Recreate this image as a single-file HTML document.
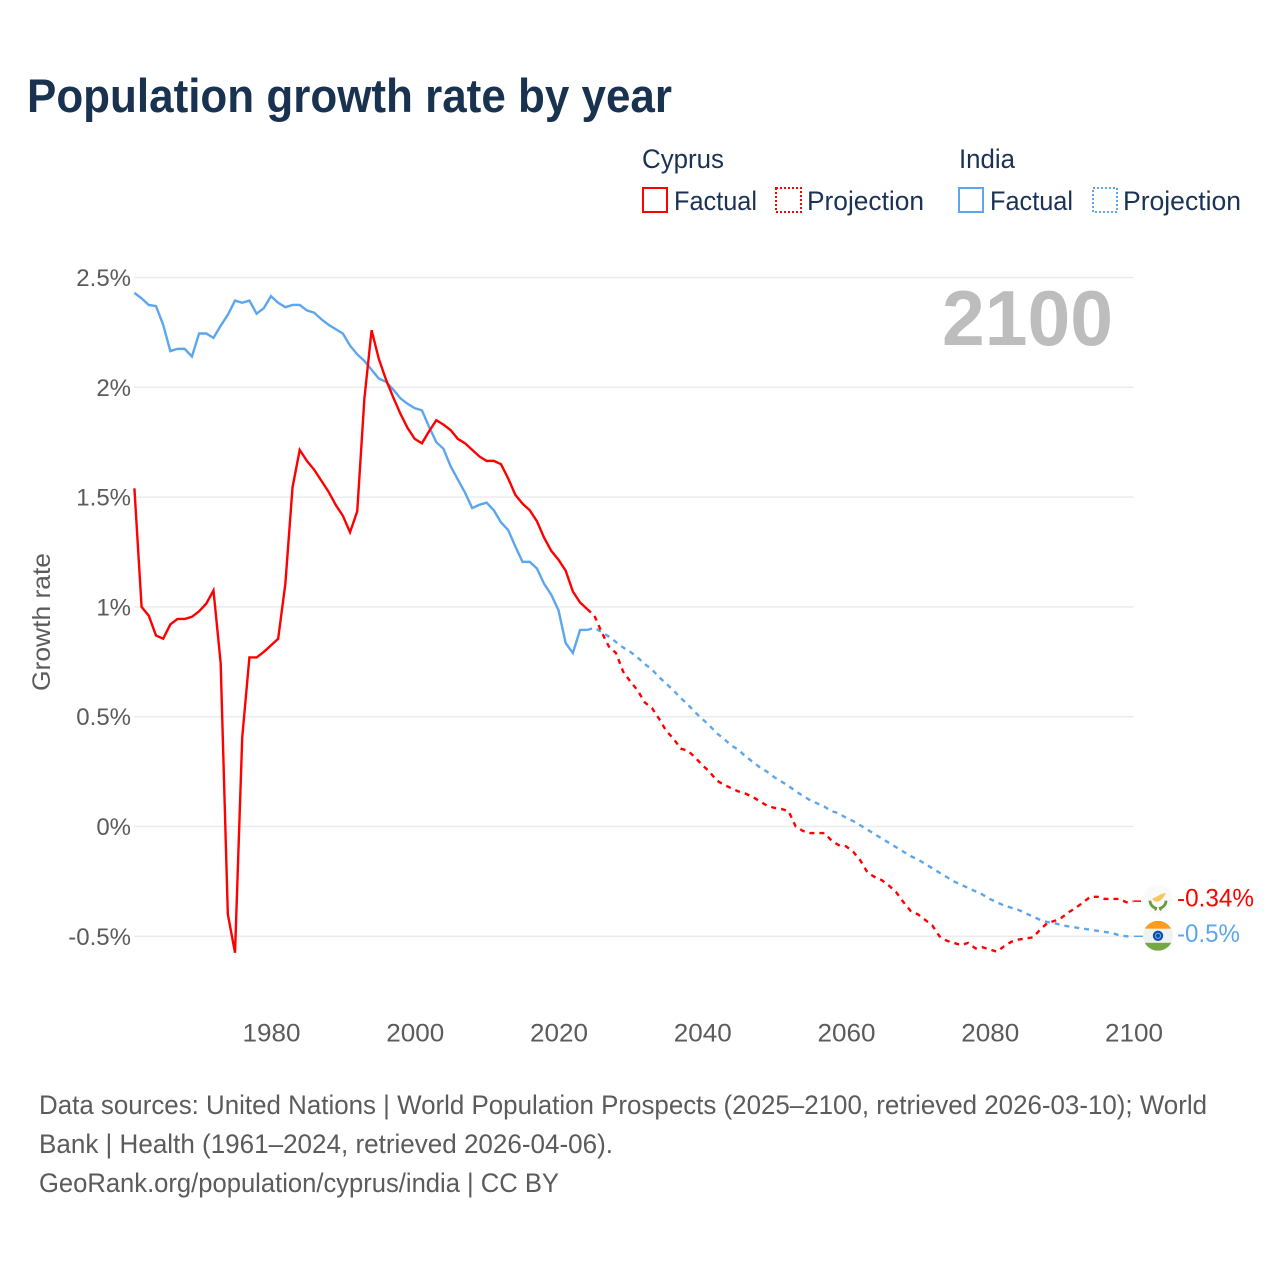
<!DOCTYPE html>
<html lang="en">
<head>
<meta charset="utf-8">
<title>Population growth rate by year</title>
<style>
html,body{margin:0;padding:0;background:#fff;width:1280px;height:1280px;overflow:hidden}
svg{display:block}
text{font-family:"Liberation Sans",sans-serif}
.ytick{font-size:24px;fill:#5b5b5b}
.xtick{font-size:25px;fill:#5b5b5b}
.legend{font-size:27px;fill:#1a3254}
.foot{font-size:27px;fill:#5b5b5b}
</style>
</head>
<body>
<svg id="chart" width="1280" height="1280" viewBox="0 0 1280 1280" xmlns="http://www.w3.org/2000/svg">
  <text x="27" y="112" font-size="47" font-weight="700" fill="#18324f" textLength="645" lengthAdjust="spacingAndGlyphs">Population growth rate by year</text>

  <g>
    <text class="legend" x="642" y="168" textLength="82" lengthAdjust="spacingAndGlyphs">Cyprus</text>
    <text class="legend" x="959" y="168" textLength="56" lengthAdjust="spacingAndGlyphs">India</text>
    <rect x="643" y="188" width="24" height="24" fill="none" stroke="#ff0000" stroke-width="2"/>
    <text class="legend" x="674" y="210" textLength="83" lengthAdjust="spacingAndGlyphs">Factual</text>
    <rect x="776" y="188" width="25" height="24" fill="none" stroke="#ff0000" stroke-width="2" stroke-dasharray="2 2"/>
    <text class="legend" x="807" y="210" textLength="117" lengthAdjust="spacingAndGlyphs">Projection</text>
    <rect x="959" y="188" width="24" height="24" fill="none" stroke="#5ca6ee" stroke-width="2"/>
    <text class="legend" x="990" y="210" textLength="83" lengthAdjust="spacingAndGlyphs">Factual</text>
    <rect x="1093" y="188" width="24" height="24" fill="none" stroke="#5ca6ee" stroke-width="2" stroke-dasharray="2 2"/>
    <text class="legend" x="1123" y="210" textLength="118" lengthAdjust="spacingAndGlyphs">Projection</text>
  </g>

  <g id="grid"></g>
  <g id="yLabels"></g>
  <g id="xLabels"></g>
  <text transform="translate(50,622) rotate(-90)" text-anchor="middle" font-size="25" fill="#5b5b5b" textLength="138" lengthAdjust="spacingAndGlyphs">Growth rate</text>
  <text x="942" y="345" font-size="78" font-weight="700" fill="#bdbdbd" textLength="171" lengthAdjust="spacingAndGlyphs">2100</text>
  <g id="series"></g>

  <g id="flagCyprus">
    <circle cx="0" cy="0" r="15" fill="#fafafa"/>
    <path d="M-6 -1 C-3 -2 -1 -3 2 -5 C4 -6 6 -6 8 -7 C7 -4 5 -1 2 1 C-1 3 -4 2 -6 -1 Z" fill="#f7c75a"/>
    <path d="M-8 1 C-8 5 -5 8 -1 9 M8 1 C8 5 5 8 1 9" fill="none" stroke="#6b9a3e" stroke-width="2.8"/>
    <path d="M-2 9 L-3 11 M2 9 L3 11" fill="none" stroke="#6b9a3e" stroke-width="1.6"/>
  </g>
  <g id="flagIndia">
    <clipPath id="indiaClip"><circle cx="0" cy="0" r="15"/></clipPath>
    <g clip-path="url(#indiaClip)">
      <rect x="-15" y="-15" width="30" height="8" fill="#ff9b1f"/>
      <rect x="-15" y="-7" width="30" height="14" fill="#f1f1f1"/>
      <rect x="-15" y="7" width="30" height="8" fill="#74a843"/>
    </g>
    <circle cx="0" cy="0" r="5.2" fill="#0f4fa8"/>
    <circle cx="0" cy="0" r="2.6" fill="none" stroke="#7fa6dc" stroke-width="1"/>
  </g>
  <g id="endLabels"></g>

  <g>
    <text class="foot" x="39" y="1114" textLength="1168" lengthAdjust="spacingAndGlyphs">Data sources: United Nations | World Population Prospects (2025–2100, retrieved 2026-03-10); World</text>
    <text class="foot" x="39" y="1153" textLength="574" lengthAdjust="spacingAndGlyphs">Bank | Health (1961–2024, retrieved 2026-04-06).</text>
    <text class="foot" x="39" y="1192" textLength="520" lengthAdjust="spacingAndGlyphs">GeoRank.org/population/cyprus/india | CC BY</text>
  </g>
</svg>
<script>
const factualStartYear = 1961;
const projectionStartYear = 2025;
const xTicks = [1980, 2000, 2020, 2040, 2060, 2080, 2100];
const yTicks = [-0.5, 0, 0.5, 1, 1.5, 2, 2.5];
const cyprusFactual = [1.54,1.0,0.96,0.87,0.855,0.92,0.945,0.945,0.955,0.98,1.015,1.075,0.745,-0.4,-0.575,0.405,0.77,0.77,0.795,0.825,0.855,1.105,1.545,1.715,1.665,1.625,1.575,1.525,1.465,1.415,1.34,1.435,1.95,2.26,2.13,2.035,1.955,1.88,1.815,1.765,1.745,1.8,1.85,1.83,1.805,1.765,1.745,1.715,1.685,1.665,1.665,1.65,1.585,1.51,1.47,1.44,1.39,1.315,1.255,1.215,1.165,1.07,1.02,0.99];
const cyprusProjection = [0.96,0.885,0.82,0.79,0.705,0.66,0.62,0.565,0.54,0.49,0.435,0.4,0.355,0.345,0.315,0.28,0.25,0.21,0.19,0.175,0.16,0.15,0.135,0.115,0.095,0.085,0.08,0.07,0.0,-0.02,-0.03,-0.03,-0.03,-0.065,-0.085,-0.09,-0.115,-0.155,-0.21,-0.23,-0.245,-0.27,-0.3,-0.345,-0.385,-0.4,-0.425,-0.45,-0.5,-0.52,-0.53,-0.54,-0.53,-0.555,-0.55,-0.56,-0.57,-0.545,-0.525,-0.515,-0.51,-0.505,-0.47,-0.44,-0.43,-0.415,-0.39,-0.37,-0.345,-0.32,-0.32,-0.33,-0.33,-0.33,-0.345,-0.34];
const indiaFactual = [2.43,2.405,2.375,2.37,2.285,2.165,2.175,2.175,2.14,2.245,2.245,2.225,2.28,2.33,2.395,2.385,2.395,2.335,2.36,2.415,2.385,2.365,2.375,2.375,2.35,2.34,2.31,2.285,2.265,2.245,2.19,2.15,2.12,2.08,2.04,2.025,1.99,1.95,1.925,1.905,1.895,1.82,1.75,1.72,1.64,1.58,1.52,1.45,1.465,1.475,1.44,1.385,1.35,1.275,1.205,1.205,1.175,1.105,1.055,0.985,0.835,0.79,0.895,0.895];
const indiaProjection = [0.905,0.885,0.865,0.84,0.815,0.795,0.77,0.74,0.715,0.68,0.65,0.62,0.585,0.555,0.52,0.49,0.46,0.425,0.4,0.37,0.35,0.32,0.295,0.27,0.25,0.225,0.205,0.185,0.16,0.14,0.12,0.105,0.09,0.07,0.06,0.04,0.025,0.005,-0.015,-0.035,-0.055,-0.075,-0.095,-0.115,-0.135,-0.15,-0.17,-0.19,-0.21,-0.23,-0.25,-0.265,-0.28,-0.295,-0.31,-0.33,-0.345,-0.36,-0.37,-0.38,-0.395,-0.41,-0.425,-0.435,-0.44,-0.45,-0.455,-0.46,-0.465,-0.47,-0.475,-0.48,-0.485,-0.495,-0.5,-0.5];

const SVG_NS = 'http://www.w3.org/2000/svg';
const RED = '#ff0000';
const BLUE = '#5ca6ee';
function xScale(year) { return 134.4 + (year - 1961) * 7.188; }
function yScale(value) { return 826.5 - value * 219.6; }
function make(tag, parentId, attrs, text) {
  const el = document.createElementNS(SVG_NS, tag);
  Object.keys(attrs).forEach(function (k) { el.setAttribute(k, attrs[k]); });
  if (text !== undefined) el.textContent = text;
  document.getElementById(parentId).appendChild(el);
  return el;
}
function pathFrom(values, startYear, lead) {
  const pts = values.map(function (v, i) {
    return xScale(startYear + i).toFixed(2) + ' ' + yScale(v).toFixed(2);
  });
  if (lead !== undefined) pts.unshift(xScale(startYear - 1).toFixed(2) + ' ' + yScale(lead).toFixed(2));
  return 'M' + pts.join(' L');
}

yTicks.forEach(function (t) {
  const line = make('line', 'grid', {x1: 134, x2: 1133.5, y1: yScale(t), y2: yScale(t), stroke: '#ebebeb', 'stroke-width': 1.5});
  
  
  const label = make('text', 'yLabels', {x: 131, y: yScale(t) + 8.5, 'text-anchor': 'end', class: 'ytick'}, t + '%');
  
  
});
xTicks.forEach(function (t) {
  const label = make('text', 'xLabels', {x: xScale(t) + 0.5, y: 1041.5, 'text-anchor': 'middle', class: 'xtick', textLength: 58, lengthAdjust: 'spacingAndGlyphs'}, String(t));
  
  
});

const indiaFactualLine = make('path', 'series', {d: pathFrom(indiaFactual, factualStartYear), fill: 'none', stroke: BLUE, 'stroke-width': 2.4});


const cyprusFactualLine = make('path', 'series', {d: pathFrom(cyprusFactual, factualStartYear), fill: 'none', stroke: RED, 'stroke-width': 2.4});


const indiaProjectionLine = make('path', 'series', {d: pathFrom(indiaProjection, projectionStartYear, indiaFactual[indiaFactual.length - 1]), fill: 'none', stroke: BLUE, 'stroke-width': 2.4, 'stroke-dasharray': '5 5'});


const cyprusProjectionLine = make('path', 'series', {d: pathFrom(cyprusProjection, projectionStartYear, cyprusFactual[cyprusFactual.length - 1]), fill: 'none', stroke: RED, 'stroke-width': 2.4, 'stroke-dasharray': '5 5'});



const cyprusEnd = cyprusProjection[cyprusProjection.length - 1];
const indiaEnd = indiaProjection[indiaProjection.length - 1];
const cyprusConnector = make('line', 'series', {x1: 1134, x2: 1141, y1: yScale(cyprusEnd), y2: yScale(cyprusEnd), stroke: RED, 'stroke-width': 1.5});


const indiaConnector = make('line', 'series', {x1: 1134, x2: 1143, y1: yScale(indiaEnd), y2: yScale(indiaEnd), stroke: BLUE, 'stroke-width': 1.5});


document.getElementById('flagCyprus').setAttribute('transform', 'translate(1158,' + (yScale(cyprusEnd) - 1.5) + ')');
document.getElementById('flagIndia').setAttribute('transform', 'translate(1158,' + (yScale(indiaEnd) - 0.5) + ')');

const cyprusEndLabel = make('text', 'endLabels', {x: 1177, y: yScale(cyprusEnd) + 5.5, 'font-size': 25, fill: RED, textLength: 77, lengthAdjust: 'spacingAndGlyphs'}, cyprusEnd + '%');


const indiaEndLabel = make('text', 'endLabels', {x: 1177, y: yScale(indiaEnd) + 5.5, 'font-size': 25, fill: BLUE, textLength: 63, lengthAdjust: 'spacingAndGlyphs'}, indiaEnd + '%');


</script>
</body>
</html>
